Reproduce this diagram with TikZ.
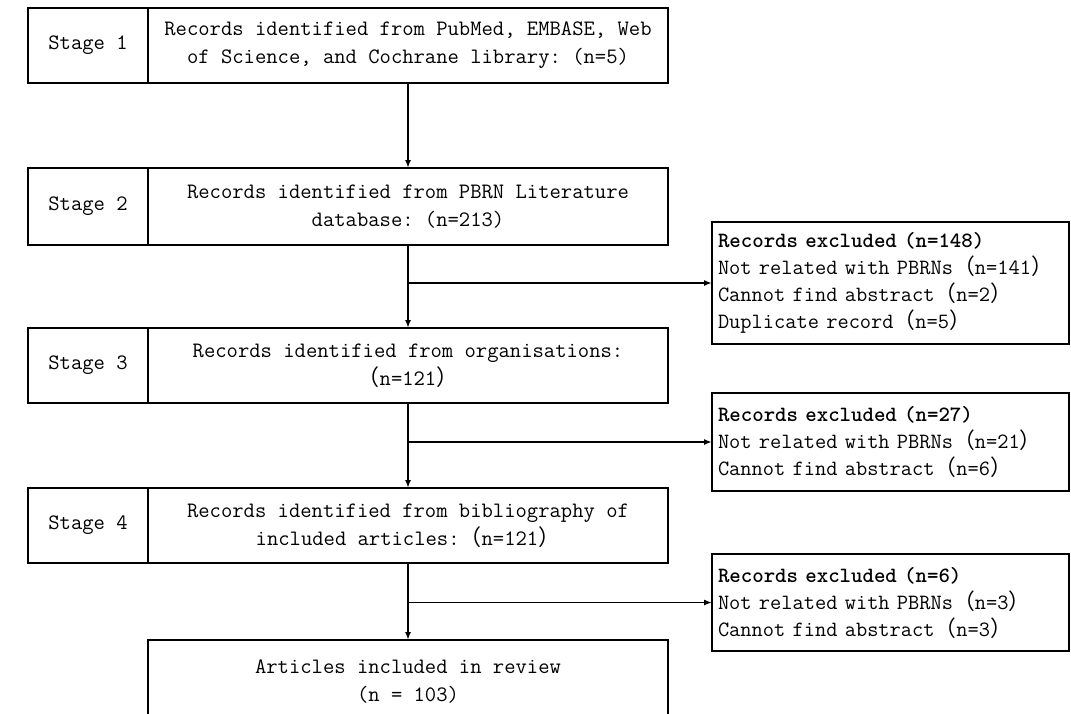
\documentclass[tikz,border=0pt]{standalone}
\usepackage{fontspec}
\newfontfamily\cjk{Noto Sans CJK SC}
\newfontfamily\hdfont{lmmonolt10-bold}[Extension=.otf]
\usetikzlibrary{positioning,arrows.meta}
\frenchspacing
\def\lp{{\cjk （}}
\def\rp{{\cjk ）}}
\tikzset{
	box/.style={draw, line width=1.8, font=\ttfamily\fontsize{22}{28}\selectfont, align=center, inner sep=0, outer sep=0},
	stagebox/.style={box, minimum width=120, minimum height=75},
	recbox/.style={box, minimum width=520, minimum height=75},
	exbox/.style={box, align=left, text width=345, inner xsep=6, font=\ttfamily\fontsize{21.8}{27}\selectfont},
	flow/.style={line width=1.8, -{Latex[length=8,width=6]}}
}

\begin{document}
\begin{tikzpicture}[x=1pt, y=-1pt]
			%%%%% START %%%%%
			\useasboundingbox (0, 0) rectangle (1071, 713);
			\clip (0, 0) rectangle (1071, 713);
			
			\node[stagebox] (s1) at (88, 45.5) {Stage 1};
			\node[recbox, right=0pt of s1] (r1) {Records identified from PubMed, EMBASE, Web\\of Science, and Cochrane library: (n=5)};
			
			\node[stagebox, minimum height=77] (s2) at (88, 206.5) {Stage 2};
			\node[recbox, minimum height=77, right=0pt of s2] (r2) {Records identified from PBRN Literature\\database: (n=213)};
			
			\node[stagebox] (s3) at (88, 365.5) {Stage 3};
			\node[recbox, right=0pt of s3] (r3) {Records identified from organisations:\\\lp n=121\rp};
			
			\node[stagebox] (s4) at (88, 525.5) {Stage 4};
			\node[recbox, right=0pt of s4] (r4) {Records identified from bibliography of\\included articles:\lp n=121\rp};
			
			\node[recbox, minimum height=84] (fin) at (408, 682) {Articles included in review\\(n = 103)};
			
			\node[exbox, minimum height=122] (x1) at (890.5, 283) {{\hdfont Records excluded (n=148)}\\Not related with PBRNs\lp n=141\rp\\Cannot find abstract\lp n=2\rp\\Duplicate record\lp n=5\rp};
			\node[exbox, minimum height=98] (x2) at (890.5, 442) {{\hdfont Records excluded (n=27)}\\Not related with PBRNs\lp n=21\rp\\Cannot find abstract\lp n=6\rp};
			\node[exbox, minimum height=97] (x3) at (890.5, 602.5) {{\hdfont Records excluded (n=6)}\\Not related with PBRNs\lp n=3\rp\\Cannot find abstract\lp n=3\rp};
			
			\draw[flow] (r1) -- (r2);
			\draw[flow] (r2) -- (r3);
			\draw[flow] (r3) -- (r4);
			\draw[flow] (r4) -- (fin);
			
			\draw[flow] (r2.south |- x1) -- (x1);
			\draw[flow] (r3.south |- x2) -- (x2);
			\draw[flow] (r4.south |- x3) -- (x3);
			
			%%%%% END %%%%%
		\end{tikzpicture}
\end{document}
